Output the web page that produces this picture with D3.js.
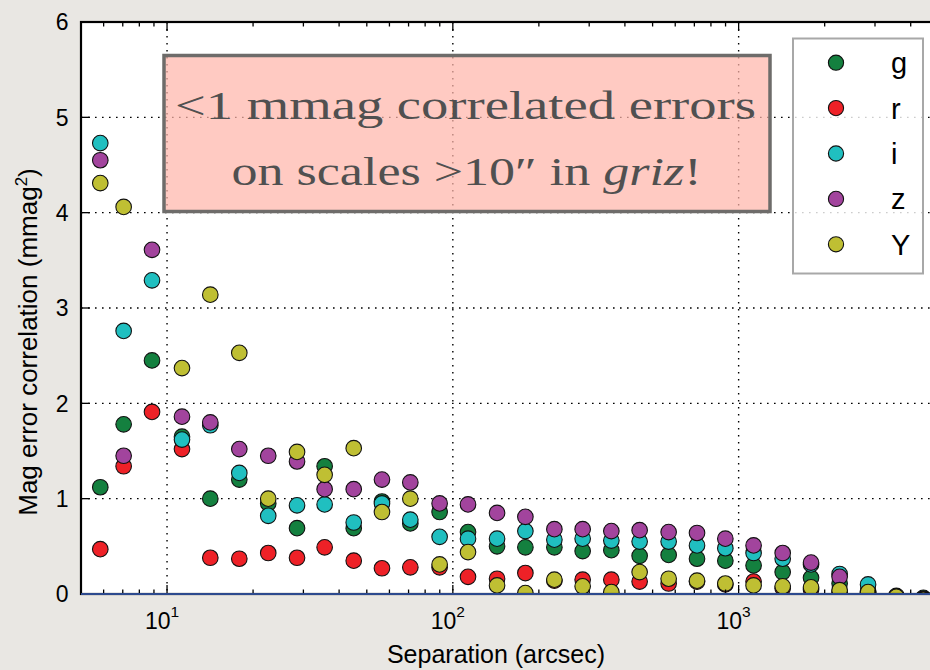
<!DOCTYPE html>
<html>
<head>
<meta charset="utf-8">
<script src="https://cdn.jsdelivr.net/npm/d3@7"></script>
<style>
  body { margin: 0; background: #e9e7e3; }
  svg { display: block; }
</style>
</head>
<body>
<svg width="930" height="670"></svg>
<script>
// separation bins (arcsec)
const sep = [5.84, 7.05, 8.86, 11.28, 14.17, 17.9, 22.6, 28.5, 35.6, 45.0, 56.5, 71.0, 89.9, 113.0, 142.8,
  179.4, 226.6, 284.6, 358.6, 450.4, 569.0, 715.1, 898.4, 1128, 1426, 1792, 2256, 2837, 3563, 4430];

const gVals = [1.12, 1.78, 2.45, 1.65, 1.00, 1.20, 0.95, 0.69, 1.34, 0.69, 0.97, 0.74, 0.86, 0.65, 0.50,
  0.49, 0.49, 0.45, 0.46, 0.40, 0.41, 0.37, 0.35, 0.30, 0.23, 0.17, 0.11, 0.03, -0.02, -0.04];
const rVals = [0.47, 1.34, 1.91, 1.52, 0.38, 0.37, 0.43, 0.38, 0.49, 0.35, 0.27, 0.28, 0.28, 0.18, 0.16,
  0.22, 0.14, 0.15, 0.15, 0.13, 0.11, 0.13, 0.10, 0.13, 0.06, 0.05, 0.02, 0.00, -0.03, -0.05];
const iVals = [4.73, 2.76, 3.29, 1.62, 1.77, 1.27, 0.82, 0.93, 0.94, 0.75, 0.95, 0.78, 0.60, 0.58, 0.58,
  0.66, 0.57, 0.58, 0.56, 0.55, 0.55, 0.51, 0.48, 0.43, 0.37, 0.31, 0.21, 0.10, -0.05, -0.06];
const zVals = [4.55, 1.45, 3.61, 1.86, 1.80, 1.52, 1.45, 1.39, 1.10, 1.10, 1.20, 1.17, 0.95, 0.94, 0.85,
  0.81, 0.68, 0.68, 0.66, 0.67, 0.65, 0.64, 0.58, 0.51, 0.43, 0.33, 0.18, -0.02, -0.06, -0.08];
const yVals = [4.31, 4.06, null, 2.37, 3.14, 2.53, 1.00, 1.49, 1.25, 1.53, 0.86, 1.00, 0.31, 0.44, 0.09,
  0.01, 0.15, 0.08, 0.02, 0.23, 0.16, 0.14, 0.11, 0.09, 0.08, 0.07, 0.04, 0.02, -0.03, -0.06];

const bands = ['g', 'r', 'i', 'z', 'Y'];
const bandVals = [gVals, rVals, iVals, zVals, yVals];
const bandColors = ['#14803f', '#ee2127', '#20bfc0', '#a2449d', '#bfbf33'];

const yTicks = [0, 1, 2, 3, 4, 5, 6];
const xMajor = [10, 100, 1000];
const xMinor = [6, 7, 8, 9, 20, 30, 40, 50, 60, 70, 80, 90, 200, 300, 400, 500, 600, 700, 800, 900, 2000, 3000, 4000];

const svg = d3.select('svg');
const margin = { left: 81, top: 22, bottom: 594 };
const decade = 285.8;

const x = d3.scaleLog().domain([5, 5000]).range([margin.left, margin.left + 3 * decade]);
const y = d3.scaleLinear().domain([0, 6]).range([margin.bottom, margin.top]);
const plotL = margin.left, plotT = margin.top, plotB = margin.bottom;
const plotR = x.range()[1];

// plot background
svg.append('rect')
  .attr('x', plotL).attr('y', plotT)
  .attr('width', plotR - plotL).attr('height', plotB - plotT)
  .attr('fill', '#fff');

svg.append('clipPath').attr('id', 'plotclip')
  .append('rect')
  .attr('x', plotL).attr('y', plotT)
  .attr('width', plotR - plotL).attr('height', plotB - plotT);

// dotted grid
const grid = svg.append('g').attr('stroke', '#000').attr('stroke-width', 1.4)
  .attr('stroke-dasharray', '1.6,5.4');
grid.selectAll('.gy').data(yTicks.slice(1, -1)).enter().append('line')
  .attr('x1', plotL).attr('x2', plotR)
  .attr('y1', d => y(d)).attr('y2', d => y(d));
grid.selectAll('.gx').data(xMajor).enter().append('line')
  .attr('x1', d => x(d)).attr('x2', d => x(d))
  .attr('y1', plotT).attr('y2', plotB);

// scatter points, drawn band by band in legend order
const pts = svg.append('g').attr('clip-path', 'url(#plotclip)');
bands.forEach((b, k) => {
  const data = sep.map((s, j) => ({ s: s, v: bandVals[k][j] })).filter(d => d.v !== null);
  pts.selectAll('.p' + b).data(data).enter().append('circle')
    .attr('cx', d => x(d.s))
    .attr('cy', d => y(d.v))
    .attr('r', 7.8)
    .attr('fill', bandColors[k])
    .attr('stroke', '#111')
    .attr('stroke-width', 1.1);
});

// annotation box
const note = svg.append('g');
note.append('rect')
  .attr('x', 164).attr('y', 55.5).attr('width', 606).attr('height', 156)
  .attr('fill', '#ffb6ab').attr('fill-opacity', 0.72)
  .attr('stroke', '#6e6c6a').attr('stroke-width', 3.5);
note.append('text')
  .attr('x', 465.5).attr('y', 119)
  .attr('text-anchor', 'middle')
  .attr('font-family', 'Liberation Serif, serif')
  .attr('font-size', 41).attr('fill', '#505050')
  .attr('textLength', 581).attr('lengthAdjust', 'spacingAndGlyphs')
  .text('<1 mmag correlated errors');
const line2 = note.append('text')
  .attr('x', 466.5).attr('y', 185)
  .attr('text-anchor', 'middle')
  .attr('font-family', 'Liberation Serif, serif')
  .attr('font-size', 41).attr('fill', '#505050')
  .attr('textLength', 470).attr('lengthAdjust', 'spacingAndGlyphs');
line2.append('tspan').text('on scales >10\u2033 in ');
line2.append('tspan').attr('font-style', 'italic').text('griz');
line2.append('tspan').text('!');

// legend
const legend = svg.append('g');
legend.append('rect')
  .attr('x', 793).attr('y', 38.5).attr('width', 130).attr('height', 235)
  .attr('fill', '#fff').attr('fill-opacity', 0.8)
  .attr('stroke', '#a8a8a8').attr('stroke-width', 2);
const ly = d3.scalePoint().domain(bands).range([62.7, 244.3]);
legend.selectAll('circle').data(bands).enter().append('circle')
  .attr('cx', 836).attr('cy', d => ly(d)).attr('r', 7.6)
  .attr('fill', (d, k) => bandColors[k])
  .attr('stroke', '#111').attr('stroke-width', 1.1);
legend.selectAll('text').data(bands).enter().append('text')
  .attr('x', 891).attr('y', d => ly(d) + 10.5)
  .attr('font-family', 'Liberation Sans, Arial, sans-serif')
  .attr('font-size', 29).attr('fill', '#000')
  .text(d => d);

// frame
svg.append('rect')
  .attr('x', plotL).attr('y', plotT)
  .attr('width', plotR - plotL).attr('height', plotB - plotT)
  .attr('fill', 'none').attr('stroke', '#000').attr('stroke-width', 2.2);

// inward ticks
const ticks = svg.append('g').attr('stroke', '#000').attr('stroke-width', 1.3);
[[xMajor, 9], [xMinor, 4.5]].forEach(([vals, len]) => {
  ticks.selectAll(null).data(vals).enter().append('line')
    .attr('x1', d => x(d)).attr('x2', d => x(d))
    .attr('y1', plotB).attr('y2', plotB - len);
  ticks.selectAll(null).data(vals).enter().append('line')
    .attr('x1', d => x(d)).attr('x2', d => x(d))
    .attr('y1', plotT).attr('y2', plotT + len);
});
ticks.selectAll(null).data(yTicks).enter().append('line')
  .attr('x1', plotL).attr('x2', plotL + 9)
  .attr('y1', d => y(d)).attr('y2', d => y(d));

// zero line
svg.append('line')
  .attr('x1', plotL).attr('x2', plotR)
  .attr('y1', y(0)).attr('y2', y(0))
  .attr('stroke', '#2d4a8e').attr('stroke-width', 2);

// tick labels
const font = 'Liberation Sans, Arial, sans-serif';
svg.append('g').selectAll('text').data(yTicks).enter().append('text')
  .attr('x', 68.5).attr('y', d => y(d))
  .attr('dy', '0.36em')
  .attr('text-anchor', 'end')
  .attr('font-family', font).attr('font-size', 23)
  .text(d => d);

const xl = svg.append('g').selectAll('text').data(xMajor).enter().append('text')
  .attr('x', d => x(d) - 5).attr('y', 628.5)
  .attr('text-anchor', 'middle')
  .attr('font-family', font).attr('font-size', 23);
xl.append('tspan').text('10');
xl.append('tspan').attr('dy', -12).attr('font-size', 15.5).text(d => Math.round(Math.log10(d)));

// axis titles
svg.append('text')
  .attr('x', 496).attr('y', 663)
  .attr('text-anchor', 'middle')
  .attr('font-family', font).attr('font-size', 25)
  .text('Separation (arcsec)');

const yl = svg.append('text')
  .attr('transform', 'translate(37,342) rotate(-90)')
  .attr('text-anchor', 'middle')
  .attr('font-family', font).attr('font-size', 26);
yl.append('tspan').text('Mag error correlation (mmag');
yl.append('tspan').attr('dy', -10).attr('font-size', 17).text('2');
yl.append('tspan').attr('dy', 10).text(')');
</script>
</body>
</html>
